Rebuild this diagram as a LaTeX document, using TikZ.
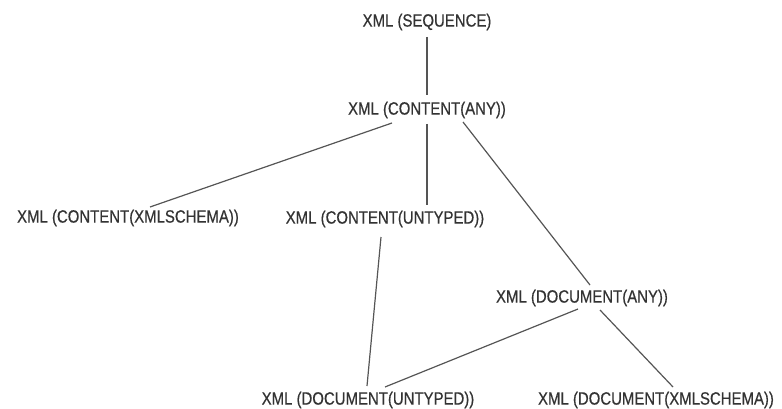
\documentclass[tikz,border=0pt]{standalone}
\usepackage{fontspec}
\setmainfont{Liberation Sans}[FakeStretch=0.84,FakeBold=0.5]
\usetikzlibrary{calc}
\definecolor{txt}{HTML}{333333}
\definecolor{edge}{HTML}{555555}
\begin{document}
\begin{tikzpicture}[x=1pt,y=-1pt,
  lbl/.style={inner sep=0pt,anchor=center,text=txt,font=\fontsize{17.8}{19}\selectfont},
  conn/.style={draw=edge,line width=1.2pt}]
\useasboundingbox (0,0) rectangle (782,409);
\node[lbl] (seq) at (427,22) {XML (SEQUENCE)};
\node[lbl] (ca) at (427,110) {XML (CONTENT(ANY))};
\node[lbl] (cx) at (128,218) {XML (CONTENT(XMLSCHEMA))};
\node[lbl] (cu) at (385,219) {XML (CONTENT(UNTYPED))};
\node[lbl] (da) at (582,298) {XML (DOCUMENT(ANY))};
\node[lbl] (du) at (368,400) {XML (DOCUMENT(UNTYPED))};
\node[lbl] (dx) at (656,400) {XML (DOCUMENT(XMLSCHEMA))};
\draw[conn] ($(seq)+(0,15)$) -- ($(ca)+(0,-15)$);
\draw[conn] ($(ca)+(-35,13)$) -- ($(cx)+(22,-11)$);
\draw[conn] ($(ca)+(0,14)$) -- ($(cu)+(42,-14)$);
\draw[conn] ($(ca)+(36,12)$) -- ($(da)+(8,-13)$);
\draw[conn] ($(cu)+(-4,18)$) -- ($(du)+(-1,-14)$);
\draw[conn] ($(da)+(-4,11)$) -- ($(du)+(17,-13)$);
\draw[conn] ($(da)+(18,12)$) -- ($(dx)+(17,-13)$);
\end{tikzpicture}
\end{document}
